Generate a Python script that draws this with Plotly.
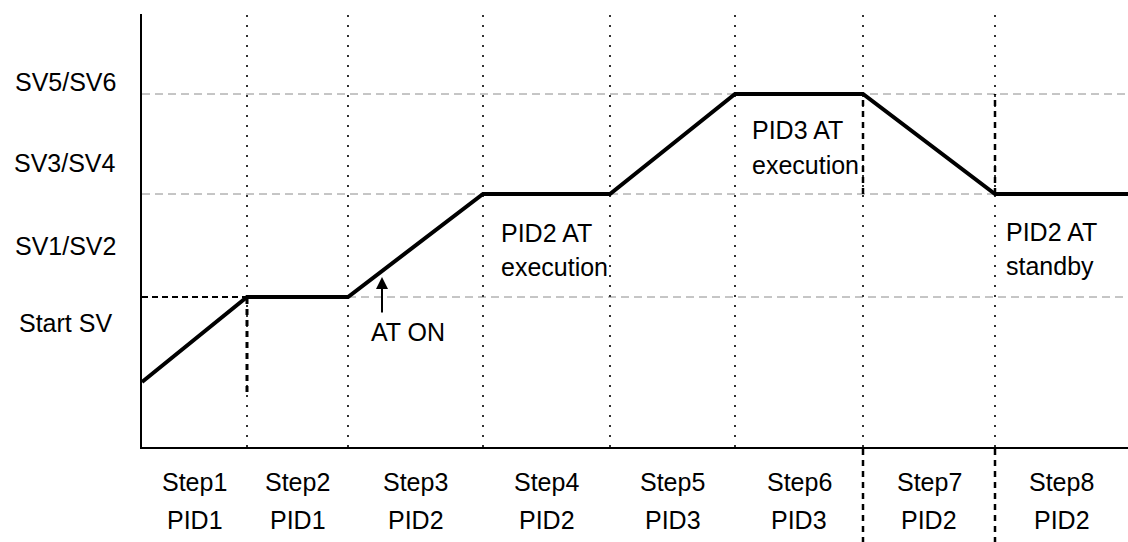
import plotly.graph_objects as go

FONT = "'Liberation Sans', Arial, sans-serif"
BLACK = "#000000"
GRID = "#8c8c8c"
DOT = "#333333"

# Step boundaries along the time axis (arbitrary units)
step_bounds = [0, 105, 206, 341, 468, 593, 721, 853, 986]
step_names = ["Step1", "Step2", "Step3", "Step4", "Step5", "Step6", "Step7", "Step8"]
step_pids = ["PID1", "PID1", "PID2", "PID2", "PID3", "PID3", "PID2", "PID2"]

# Program profile (SV value at each step boundary)
profile_y = [65, 150, 150, 253, 253, 353, 353, 253, 253]

# SV levels and their y-axis captions
sv_names = ["SV5/SV6", "SV3/SV4", "SV1/SV2", "Start SV"]
sv_label_y = [365, 284, 201, 124]
start_sv = 150
sv_mid = 253
sv_high = 353

Y_MAX = 433
X_MAX = step_bounds[-1]

W, H = 1128, 542
M_L, M_R, M_T, M_B = 142, 0, 14, 95
plot_h = H - M_T - M_B


def paper_y(px_below_axis):
    """Convert pixels below the x axis into paper coordinates."""
    return -px_below_axis / plot_h


fig = go.Figure()

shapes = []
# grey dashed reference levels
for lvl, x_from in [(sv_high, 0), (sv_mid, 0), (start_sv, step_bounds[2])]:
    shapes.append(dict(type="line", xref="x", yref="y", x0=x_from, x1=X_MAX, y0=lvl, y1=lvl,
                       line=dict(color=GRID, width=1, dash="8px,5px"), layer="below"))
# black dashed Start SV marker in step 1
shapes.append(dict(type="line", xref="x", yref="y", x0=0, x1=step_bounds[1], y0=start_sv, y1=start_sv,
                   line=dict(color=BLACK, width=2, dash="6px,4px"), layer="below"))
# dotted step separators
for b in step_bounds[1:-1]:
    shapes.append(dict(type="line", xref="x", yref="y", x0=b, x1=b, y0=0, y1=Y_MAX,
                       line=dict(color=DOT, width=2, dash="2px,8px"), layer="below"))
# heavier dashed pieces
shapes.append(dict(type="line", xref="x", yref="y", x0=step_bounds[1], x1=step_bounds[1],
                   y0=start_sv - 95, y1=start_sv,
                   line=dict(color=BLACK, width=3, dash="6px,5px"), layer="below"))
for b in step_bounds[6:8]:
    shapes.append(dict(type="line", xref="x", yref="y", x0=b, x1=b, y0=sv_mid, y1=sv_high,
                       line=dict(color=BLACK, width=2.5, dash="6px,5px"), layer="below"))
    shapes.append(dict(type="line", xref="x", yref="paper", x0=b, x1=b, y0=paper_y(2), y1=paper_y(95),
                       line=dict(color=BLACK, width=2.5, dash="6px,5px")))

fig.add_trace(go.Scatter(
    x=step_bounds, y=profile_y, mode="lines",
    line=dict(color=BLACK, width=4), hoverinfo="skip", showlegend=False,
))

ann = []
TXT = dict(family=FONT, size=25, color=BLACK)
for name, y in zip(sv_names, sv_label_y):
    ann.append(dict(x=-77 / (W - M_L - M_R), xref="paper", y=y, yref="y", text=name,
                    showarrow=False, xanchor="center", yanchor="middle", font=TXT))
for i, (s, p) in enumerate(zip(step_names, step_pids)):
    xc = (step_bounds[i] + step_bounds[i + 1]) / 2
    ann.append(dict(x=xc, xref="x", y=paper_y(35), yref="paper", text=s, showarrow=False,
                    xanchor="center", yanchor="middle", font=TXT))
    ann.append(dict(x=xc, xref="x", y=paper_y(73), yref="paper", text=p, showarrow=False,
                    xanchor="center", yanchor="middle", font=TXT))

notes = [
    (357, 214, "PID2 AT"), (357, 180, "execution"),
    (608, 317, "PID3 AT"), (608, 282, "execution"),
    (862, 215, "PID2 AT"), (862, 181, "standby"),
]
for x, y, t in notes:
    ann.append(dict(x=x, y=y, xref="x", yref="y", text=t, showarrow=False,
                    xanchor="left", yanchor="middle", font=TXT))

# AT ON arrow
ann.append(dict(x=240, y=170, xref="x", yref="y", ax=240, ay=133, axref="x", ayref="y",
                text="", showarrow=True, arrowhead=2, arrowsize=1.2, arrowwidth=2, arrowcolor=BLACK))
ann.append(dict(x=266, y=115, xref="x", yref="y", text="AT ON", showarrow=False,
                xanchor="center", yanchor="middle", font=TXT))

fig.update_layout(
    width=W, height=H,
    margin=dict(l=M_L, r=M_R, t=M_T, b=M_B),
    paper_bgcolor="white", plot_bgcolor="white",
    font=dict(family=FONT, color=BLACK),
    shapes=shapes, annotations=ann,
    xaxis=dict(range=[0, X_MAX], showgrid=False, zeroline=False, showticklabels=False,
               showline=True, linecolor=BLACK, linewidth=2, ticks=""),
    yaxis=dict(range=[0, Y_MAX], showgrid=False, zeroline=False, showticklabels=False,
               showline=True, linecolor=BLACK, linewidth=2, ticks=""),
    showlegend=False,
)

fig.write_html("out.html", config={"displayModeBar": False},
               post_script="document.body.style.margin='0';")
